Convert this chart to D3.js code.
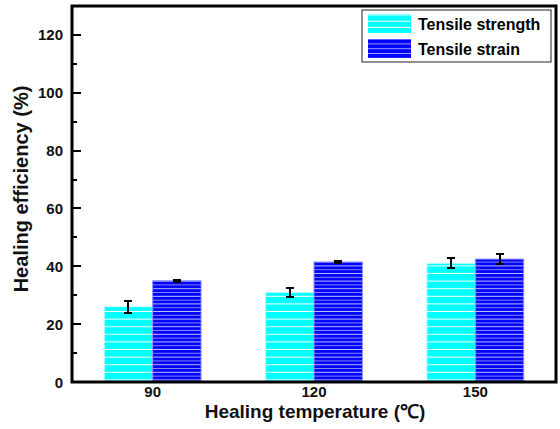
<!DOCTYPE html>
<html>
<head>
<meta charset="utf-8">
<script src="https://cdn.jsdelivr.net/npm/d3@7"></script>
<style>
    body { margin: 0; background: #fff; }
    svg { display: block; font-family: Arial, "Liberation Sans", sans-serif; }
    .tick-label { font-size: 15px; font-weight: bold; fill: #111; }
    .axis-title { font-size: 19px; font-weight: bold; fill: #111; }
    .legend-label { font-size: 16px; font-weight: bold; fill: #000; }
</style>
</head>
<body>
<div id="chart"></div>
<script>
// healing temperatures (x categories)
const temperatures = [90, 120, 150];
// series values (%)
const strengthValues = [26.0, 30.9, 41.0];
const strengthErrors = [2.1, 1.5, 1.7];
const strainValues = [35.0, 41.5, 42.5];
const strainErrors = [0.4, 0.3, 1.7];
const seriesNames = ['Tensile strength', 'Tensile strain'];
const yTicks = [0, 20, 40, 60, 80, 100, 120];
const yMinorTicks = [10, 30, 50, 70, 90, 110];

const width = 560, height = 429;
const margin = {top: 6, right: 4, bottom: 47, left: 72};
const plotW = width - margin.left - margin.right;
const plotH = height - margin.top - margin.bottom;

const svg = d3.select('#chart').append('svg')
    .attr('width', width)
    .attr('height', height);

const x = d3.scaleLinear().domain([75, 165]).range([0, plotW]);
const y = d3.scaleLinear().domain([0, 130]).range([plotH, 0]);
const barW = x(84) - x(75);

// stripe patterns, aligned to the baseline
const defs = svg.append('defs');
const cyanPat = defs.append('pattern')
    .attr('id', 'cyanStripe')
    .attr('patternUnits', 'userSpaceOnUse')
    .attr('width', 10).attr('height', 7.6)
    .attr('y', margin.top + plotH);
cyanPat.append('rect').attr('width', 10).attr('height', 7.6).attr('fill', '#00ffff');
cyanPat.append('rect').attr('y', 6.6).attr('width', 10).attr('height', 1).attr('fill', '#ffffff');

const bluePat = defs.append('pattern')
    .attr('id', 'blueStripe')
    .attr('patternUnits', 'userSpaceOnUse')
    .attr('width', 10).attr('height', 7.6)
    .attr('y', margin.top + plotH);
bluePat.append('rect').attr('width', 10).attr('height', 7.6).attr('fill', '#0000ff');
bluePat.append('rect').attr('y', 2.8).attr('width', 10).attr('height', 1).attr('fill', '#8585ff');
bluePat.append('rect').attr('y', 6.6).attr('width', 10).attr('height', 1).attr('fill', '#c0c0ff');

const g = svg.append('g')
    .attr('transform', `translate(${margin.left},${margin.top})`);

const series = [
    {name: seriesNames[0], values: strengthValues, errors: strengthErrors, fill: 'url(#cyanStripe)', stroke: '#b0ffff', offset: -barW},
    {name: seriesNames[1], values: strainValues, errors: strainErrors, fill: 'url(#blueStripe)', stroke: '#9090ff', offset: 0}
];

series.forEach(s => {
    const bars = g.append('g');
    bars.selectAll('rect')
        .data(temperatures)
        .enter().append('rect')
        .attr('x', (d, i) => x(d) + s.offset)
        .attr('y', (d, i) => y(s.values[i]))
        .attr('width', barW)
        .attr('height', (d, i) => y(0) - y(s.values[i]))
        .attr('fill', s.fill)
        .attr('stroke', s.stroke)
        .attr('stroke-width', 1);
});

// error bars
series.forEach(s => {
    const eb = g.append('g').attr('stroke', '#000').attr('stroke-width', 2);
    temperatures.forEach((t, i) => {
        const cx = Math.round(x(t) + s.offset + barW / 2);
        const top = Math.round(y(s.values[i] + s.errors[i]));
        const bot = Math.round(y(s.values[i] - s.errors[i]));
        eb.append('line').attr('x1', cx).attr('x2', cx).attr('y1', top).attr('y2', bot);
        eb.append('line').attr('x1', cx - 4).attr('x2', cx + 4).attr('y1', top).attr('y2', top);
        eb.append('line').attr('x1', cx - 4).attr('x2', cx + 4).attr('y1', bot).attr('y2', bot);
    });
});

// y axis ticks pointing inward, snapped to whole pixels
const tickG = g.append('g').attr('stroke', '#000').attr('stroke-width', 2);
tickG.selectAll('.minor')
    .data(yMinorTicks)
    .enter().append('line')
    .attr('x1', 0).attr('x2', 5)
    .attr('y1', d => Math.round(y(d))).attr('y2', d => Math.round(y(d)));
tickG.selectAll('.major')
    .data(yTicks)
    .enter().append('line')
    .attr('x1', 0).attr('x2', 9)
    .attr('y1', d => Math.round(y(d))).attr('y2', d => Math.round(y(d)));

g.append('g').selectAll('text')
    .data(yTicks)
    .enter().append('text')
    .attr('class', 'tick-label')
    .attr('x', -9)
    .attr('y', d => y(d) + 5.5)
    .attr('text-anchor', 'end')
    .text(d => d);

// x tick labels
g.append('g').selectAll('text')
    .data(temperatures)
    .enter().append('text')
    .attr('class', 'tick-label')
    .attr('x', d => x(d))
    .attr('y', plotH + 14.5)
    .attr('text-anchor', 'middle')
    .text(d => d);

// frame
g.append('rect')
    .attr('width', plotW)
    .attr('height', plotH)
    .attr('fill', 'none')
    .attr('stroke', '#000')
    .attr('stroke-width', 3);

// axis titles
svg.append('text')
    .attr('class', 'axis-title')
    .attr('x', 315)
    .attr('y', 418)
    .attr('text-anchor', 'middle')
    .text('Healing temperature (℃)');

svg.append('text')
    .attr('class', 'axis-title')
    .attr('transform', 'translate(28,189) rotate(-90)')
    .attr('text-anchor', 'middle')
    .style('font-size', '20px')
    .text('Healing efficiency (%)');

// legend
const legend = svg.append('g').attr('transform', 'translate(362,10)');
legend.append('rect')
    .attr('width', 189).attr('height', 52)
    .attr('fill', '#fff')
    .attr('stroke', '#222').attr('stroke-width', 1);
const lgCyan = defs.append('pattern')
    .attr('id', 'lgCyan').attr('patternUnits', 'userSpaceOnUse')
    .attr('width', 10).attr('height', 6.3).attr('y', 14);
lgCyan.append('rect').attr('width', 10).attr('height', 6.3).attr('fill', '#00ffff');
lgCyan.append('rect').attr('y', 5.3).attr('width', 10).attr('height', 1).attr('fill', '#fff');
const lgBlue = defs.append('pattern')
    .attr('id', 'lgBlue').attr('patternUnits', 'userSpaceOnUse')
    .attr('width', 10).attr('height', 4.8).attr('y', 39);
lgBlue.append('rect').attr('width', 10).attr('height', 4.8).attr('fill', '#0000ff');
lgBlue.append('rect').attr('y', 3.8).attr('width', 10).attr('height', 1).attr('fill', '#a0a0ff');
const lgFills = ['url(#lgCyan)', 'url(#lgBlue)'];

const items = legend.selectAll('.item')
    .data(seriesNames)
    .enter().append('g')
    .attr('transform', (d, i) => `translate(6,${4 + i * 25})`);
items.append('rect')
    .attr('width', 43).attr('height', 19)
    .attr('fill', (d, i) => lgFills[i]);
items.append('text')
    .attr('class', 'legend-label')
    .attr('x', 50)
    .attr('y', 15.5)
    .text(d => d);
</script>
</body>
</html>
